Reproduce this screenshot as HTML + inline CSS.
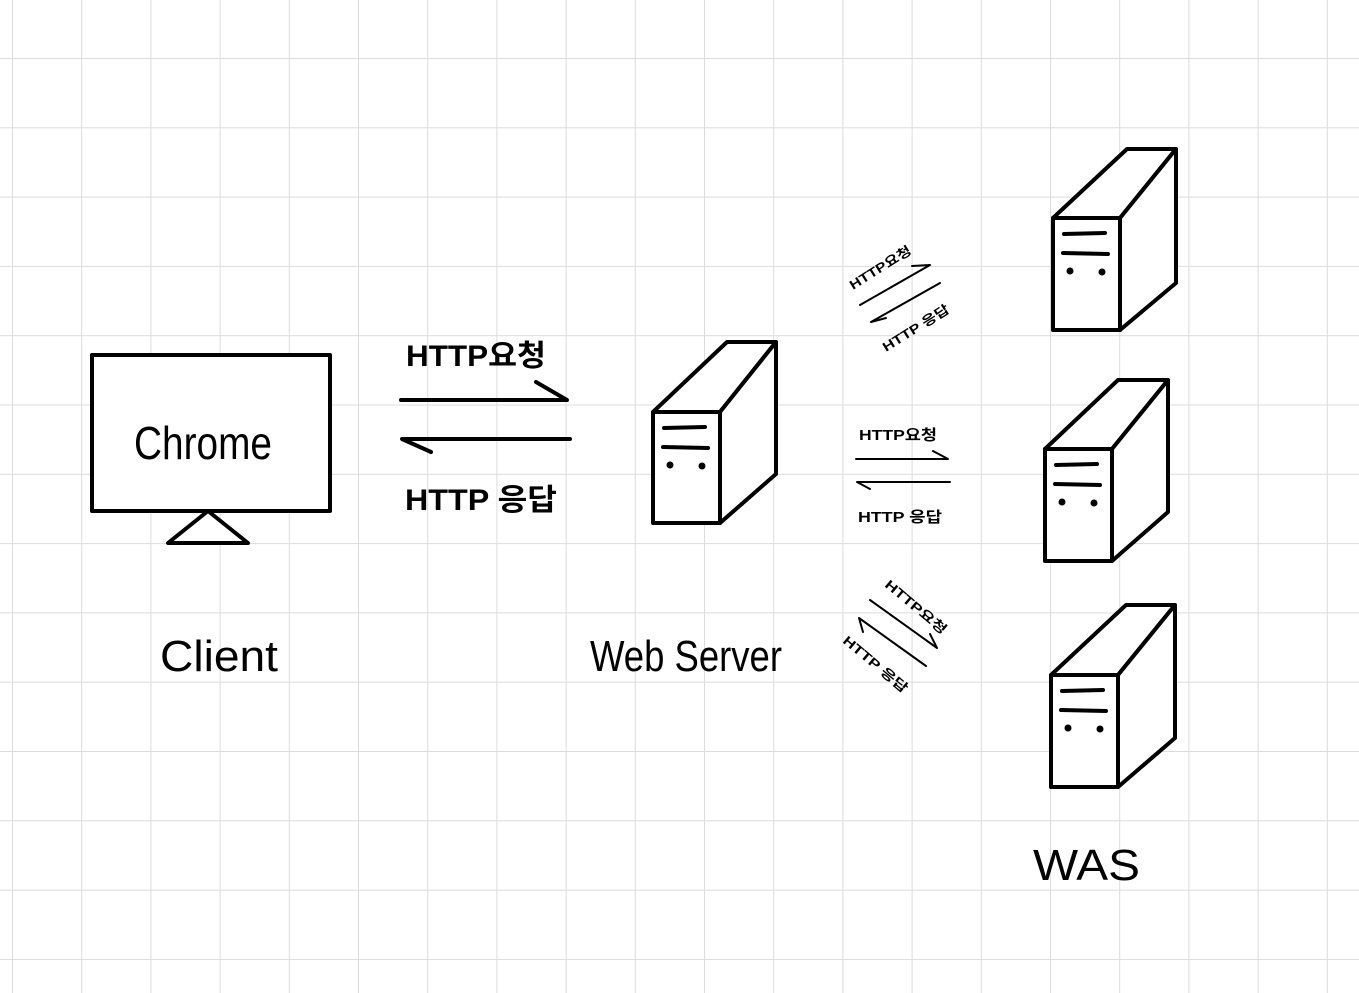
<!DOCTYPE html>
<html><head><meta charset="utf-8"><style>
html,body{margin:0;padding:0;background:#fff;}
svg{display:block;}
text{font-family:"Liberation Sans","Noto Sans CJK KR",sans-serif;fill:#000;}
</style></head><body>
<svg width="1359" height="993" viewBox="0 0 1359 993" xmlns="http://www.w3.org/2000/svg">
<defs>
<pattern id="g" x="12" y="58" width="69.2" height="69.3" patternUnits="userSpaceOnUse">
<path d="M0 0V69.3M0 0H69.2" stroke="#dcdcdc" stroke-width="2" fill="none"/>
</pattern>
</defs>
<rect width="1359" height="993" fill="url(#g)"/>
<g fill="none" stroke="#000" stroke-width="4" stroke-linejoin="round" stroke-linecap="round">
<rect x="92" y="355" width="238" height="156" fill="#fff"/>
<polygon points="168,543 248,543 208,511" fill="#fff"/>
<g fill="#fff">
<polygon points="653,412 727,342 776,342 720,412"/>
<polygon points="720,412 776,342 776,474 720,523"/>
<rect x="653" y="412" width="67" height="111"/>
</g>
<path d="M664,428 L705,427 M663,447 L708,448"/>
<circle cx="670" cy="465" r="1.5" fill="#000"/><circle cx="702" cy="466" r="1.5" fill="#000"/>
<g transform="translate(400,-194)">
<g fill="#fff">
<polygon points="653,412 727,343 776,343 720,412"/>
<polygon points="720,412 776,343 776,477 720,524"/>
<rect x="653" y="412" width="67" height="112"/>
</g>
<path d="M664,428 L705,427 M663,447 L708,448"/>
<circle cx="670" cy="465" r="1.5" fill="#000"/><circle cx="702" cy="466" r="1.5" fill="#000"/>
</g>
<g transform="translate(392,37)">
<g fill="#fff">
<polygon points="653,412 726,343 776,343 720,412"/>
<polygon points="720,412 776,343 776,475 720,524"/>
<rect x="653" y="412" width="67" height="112"/>
</g>
<path d="M664,428 L705,427 M663,447 L708,448"/>
<circle cx="670" cy="465" r="1.5" fill="#000"/><circle cx="702" cy="466" r="1.5" fill="#000"/>
</g>
<g transform="translate(398,263)">
<g fill="#fff">
<polygon points="653,412 728,342 777,342 720,412"/>
<polygon points="720,412 777,342 777,475 720,524"/>
<rect x="653" y="412" width="67" height="112"/>
</g>
<path d="M664,428 L705,427 M663,447 L708,448"/>
<circle cx="670" cy="465" r="1.5" fill="#000"/><circle cx="702" cy="466" r="1.5" fill="#000"/>
</g>
<path d="M401,400 L567,400 L536,382"/>
<path d="M570,439 L402,439 L431,452"/>
</g>
<g fill="none" stroke="#000" stroke-width="2" stroke-linecap="round" stroke-linejoin="round">
<path d="M856,459 L948,459 L933,451"/>
<path d="M950,482 L857,482 L870,489"/>
<path d="M860,305 L930,265 L912,266"/>
<path d="M940,283 L871,322 L886,318"/>
<path d="M870,600 L937,648 L930,634"/>
<path d="M926,666 L859,618 L863,632"/>
</g>
<g font-weight="bold">
<text x="406" y="366" font-size="30" textLength="140" lengthAdjust="spacingAndGlyphs">HTTP요청</text>
<text x="405" y="510" font-size="30" textLength="152" lengthAdjust="spacingAndGlyphs">HTTP 응답</text>
<text x="859" y="440" font-size="15" textLength="78" lengthAdjust="spacingAndGlyphs">HTTP요청</text>
<text x="858" y="522" font-size="15" textLength="84" lengthAdjust="spacingAndGlyphs">HTTP 응답</text>
<text transform="translate(853,290) rotate(-32)" font-size="13" textLength="70" lengthAdjust="spacingAndGlyphs">HTTP요청</text>
<text transform="translate(886,352) rotate(-32)" font-size="13" textLength="76" lengthAdjust="spacingAndGlyphs">HTTP 응답</text>
<text transform="translate(884,586) rotate(40)" font-size="13" textLength="76" lengthAdjust="spacingAndGlyphs">HTTP요청</text>
<text transform="translate(842,642) rotate(40)" font-size="13" textLength="80" lengthAdjust="spacingAndGlyphs">HTTP 응답</text>
</g>
<text x="134" y="459" font-size="46" textLength="138" lengthAdjust="spacingAndGlyphs">Chrome</text>
<text x="160" y="671" font-size="44" textLength="118" lengthAdjust="spacingAndGlyphs">Client</text>
<text x="590" y="671" font-size="44" textLength="192" lengthAdjust="spacingAndGlyphs">Web Server</text>
<text x="1033" y="880" font-size="44" textLength="107" lengthAdjust="spacingAndGlyphs">WAS</text>
</svg>
</body></html>
